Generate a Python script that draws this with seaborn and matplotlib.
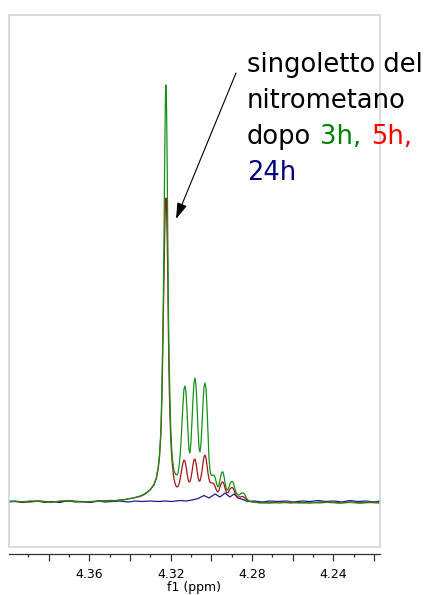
#NMR spectrum of nitromethane singlet after 3h, 5h, 24h

import numpy as np
import pandas as pd
import seaborn as sns
from matplotlib import pyplot as plt
from matplotlib.patches import Rectangle
from matplotlib.ticker import MultipleLocator, FuncFormatter

# chemical shift (ppm) shared by the 3h and 5h traces
ppm_gr = [4.39946, 4.39405, 4.38914, 4.38423, 4.37931, 4.37440, 4.36949, 4.36457, 4.35966, 4.35474,
          4.34983, 4.34654, 4.34246, 4.33838, 4.33509, 4.33347, 4.33189, 4.33017, 4.32919, 4.32821,
          4.32698, 4.32609, 4.32550, 4.32491, 4.32462, 4.32428, 4.32398, 4.32364, 4.32329, 4.32300,
          4.32270, 4.32251, 4.32236, 4.32221, 4.32201, 4.32172, 4.32143, 4.32118, 4.32093, 4.32069,
          4.32034, 4.31999, 4.31960, 4.31921, 4.31872, 4.31838, 4.31789, 4.31740, 4.31690, 4.31641,
          4.31592, 4.31543, 4.31494, 4.31445, 4.31396, 4.31347, 4.31298, 4.31248, 4.31199, 4.31150,
          4.31101, 4.31052, 4.31003, 4.30954, 4.30905, 4.30856, 4.30806, 4.30757, 4.30708, 4.30659,
          4.30610, 4.30561, 4.30512, 4.30463, 4.30414, 4.30364, 4.30315, 4.30266, 4.30217, 4.30168,
          4.30119, 4.30070, 4.30021, 4.29971, 4.29922, 4.29873, 4.29824, 4.29775, 4.29726, 4.29677,
          4.29628, 4.29579, 4.29529, 4.29480, 4.29431, 4.29382, 4.29333, 4.29284, 4.29235, 4.29186,
          4.29136, 4.29087, 4.29038, 4.28989, 4.28940, 4.28891, 4.28842, 4.28793, 4.28744, 4.28694,
          4.28645, 4.28596, 4.28547, 4.28498, 4.28449, 4.28400, 4.28351, 4.28301, 4.28252, 4.28203,
          4.28103, 4.27941, 4.27612, 4.27120, 4.26629, 4.26138, 4.25646, 4.25155, 4.24663, 4.24172,
          4.23681, 4.23189, 4.22698, 4.22206, 4.21715]
int_3h = [1, 0, 1, 0.5, -0.5, 1, 1.5, 0, 0.5, 1,
          1, 1.5, 2.5, 4, 6, 7.5, 9.5, 12, 15, 18,
          25, 36, 48, 69, 88, 119, 155, 202, 265, 335,
          390, 412, 417, 412, 390, 335, 265, 202, 160, 135,
          100, 75, 56, 44, 36, 32, 29, 27.5, 27, 29,
          35, 45, 60, 78, 98, 113, 116, 110, 92, 70,
          52, 49, 60, 80, 102, 119, 124, 117, 98, 74,
          54, 50, 58, 76, 98, 115, 119, 114, 95, 70,
          45, 32, 27, 26.5, 27, 26.5, 25, 21, 17, 15,
          17, 22, 27, 30, 30, 26, 20, 15, 12, 12.5,
          15, 18, 20, 20.5, 20, 17, 13, 10, 8, 7,
          7, 7.5, 8.5, 9, 9, 8.5, 7, 5, 3, 2,
          0.5, 0, -1, -0.5, -1, 0, -1, -0.5, -1, 0,
          -1, -0.5, -1, 0, -0.5]
int_5h = [0.5, 0.5, 0, 1, 0, 0.5, 1, 0.5, 0, 1,
          1.5, 1.5, 2.5, 4, 5.5, 7, 9, 12, 14.5, 17,
          24, 34, 45, 64, 80, 108, 140, 178, 225, 262,
          290, 301, 304, 301, 290, 262, 225, 178, 140, 112,
          84, 64, 48, 38, 28, 23, 19, 16, 15, 15.5,
          18, 22, 28, 34, 39, 42, 41, 36, 29, 23,
          20, 20.5, 24, 30, 37, 42, 43, 39, 32, 25,
          21, 21, 25, 31, 39, 45, 47, 44, 37, 29,
          23, 20, 19, 19, 19, 18, 16, 13, 11, 10,
          11.5, 15, 18, 20, 20, 18, 14, 11, 9, 9.5,
          11, 13, 14, 14.5, 14, 12, 9, 7, 5.5, 5,
          5, 5, 5, 5.5, 5.5, 5, 4, 3, 2, 1,
          0.5, 0, -0.5, -1, 0, -1, -0.5, -1, 0, -0.5,
          -1, 0, -1, -0.5, -1]

# 24h trace
ppm_24h = [4.3995, 4.3965, 4.3931, 4.3891, 4.3852, 4.3818, 4.3783, 4.3744, 4.3705, 4.3670,
           4.3636, 4.3597, 4.3557, 4.3523, 4.3488, 4.3449, 4.3410, 4.3375, 4.3341, 4.3302,
           4.3262, 4.3228, 4.3194, 4.3154, 4.3125, 4.3095, 4.3066, 4.3036, 4.3012, 4.2982,
           4.2958, 4.2933, 4.2909, 4.2889, 4.2869, 4.2845, 4.2820, 4.2791, 4.2751, 4.2712,
           4.2673, 4.2633, 4.2594, 4.2555, 4.2516, 4.2476, 4.2437, 4.2398, 4.2358, 4.2319,
           4.2280, 4.2240, 4.2201, 4.2171]
int_24h = [0, 1, -0.5, 0.5, 1, -0.5, 0.5, -0.5, 1.5, 0,
           0.5, -0.5, 1, 0, 0.5, 1, 0, 1, 0.5, 1,
           0.5, 1, 0.5, 1.5, 1, 2, 3.5, 6.5, 4, 8,
           5, 9, 5, 8, 4, 2.5, 0.5, 1, 0, 1,
           0.5, 1, 0, 1, 0.5, 1.5, 0.5, 1, 0, 1.5,
           0.5, 1, 0, 1]

df_gr = pd.DataFrame({"ppm": ppm_gr, "3h": int_3h, "5h": int_5h})
df_b = pd.DataFrame({"ppm": ppm_24h, "24h": int_24h})

sns.set_style("white")
plt.rcParams['font.family'] = ['DejaVu Sans']
plt.rcParams['text.color'] = 'black'
plt.rcParams['xtick.color'] = 'black'
plt.rcParams['axes.labelcolor'] = 'black'

fig = plt.figure(figsize=(4.25, 5.95), dpi=100)
ax = fig.add_axes([9/425, 41/595, 371/425, 539.3/595])

sns.lineplot(data=df_b, x="ppm", y="24h", color="#1c1c8e", lw=0.9, ax=ax)
sns.lineplot(data=df_gr, x="ppm", y="5h", color="#a01818", lw=0.9, ax=ax)
sns.lineplot(data=df_gr, x="ppm", y="3h", color="#169016", lw=0.9, ax=ax)

ax.set_xlim(4.3995, 4.2171)
ax.set_ylim(-52, 487.3)
for s in ["top", "left", "right"]:
    ax.spines[s].set_visible(False)
ax.spines["bottom"].set_color("#303030")
ax.spines["bottom"].set_linewidth(0.9)
ax.set_yticks([])
ax.set_ylabel("")
ax.xaxis.set_major_locator(MultipleLocator(0.02))
ax.xaxis.set_minor_locator(MultipleLocator(0.01))
ax.xaxis.set_major_formatter(FuncFormatter(lambda v, p: "%.2f" % v if round(v*50) % 2 == 0 else ""))
ax.tick_params(axis="x", which="major", direction="out", length=5, width=0.9, color="#303030",
               labelsize=9, pad=5, bottom=True, labelcolor="black")
ax.tick_params(axis="x", which="minor", direction="out", length=2.5, width=0.9, color="#303030", bottom=True)
ax.set_xlabel("f1 (ppm)", fontsize=9, labelpad=0, color="black")

# grey frame of the spectrum window
fig.patches.append(Rectangle((9/425, 47.7/595), 371/425, 532.6/595, transform=fig.transFigure,
                             fill=False, edgecolor="#d0d0d0", lw=1.1))

ax.annotate("", xy=(4.3174, 283), xytext=(4.2879, 429),
            arrowprops=dict(arrowstyle="-|>,head_length=0.7,head_width=0.22", color="black",
                            lw=0.8, mutation_scale=14, shrinkA=0, shrinkB=0))

fs = 18.5
fig.text(247/425, 1-72/595, "singoletto del", fontsize=fs, va="baseline", color="black")
fig.text(247/425, 1-108/595, "nitrometano", fontsize=fs, va="baseline", color="black")
fig.text(247/425, 1-144/595, "dopo", fontsize=fs, va="baseline", color="black")
fig.text(320/425, 1-144/595, "3h,", fontsize=fs, va="baseline", color="#008000")
fig.text(371/425, 1-144/595, "5h,", fontsize=fs, va="baseline", color="#ff0000")
fig.text(247/425, 1-180/595, "24h", fontsize=fs, va="baseline", color="#000080")

fig.savefig("out.png", dpi=100)
